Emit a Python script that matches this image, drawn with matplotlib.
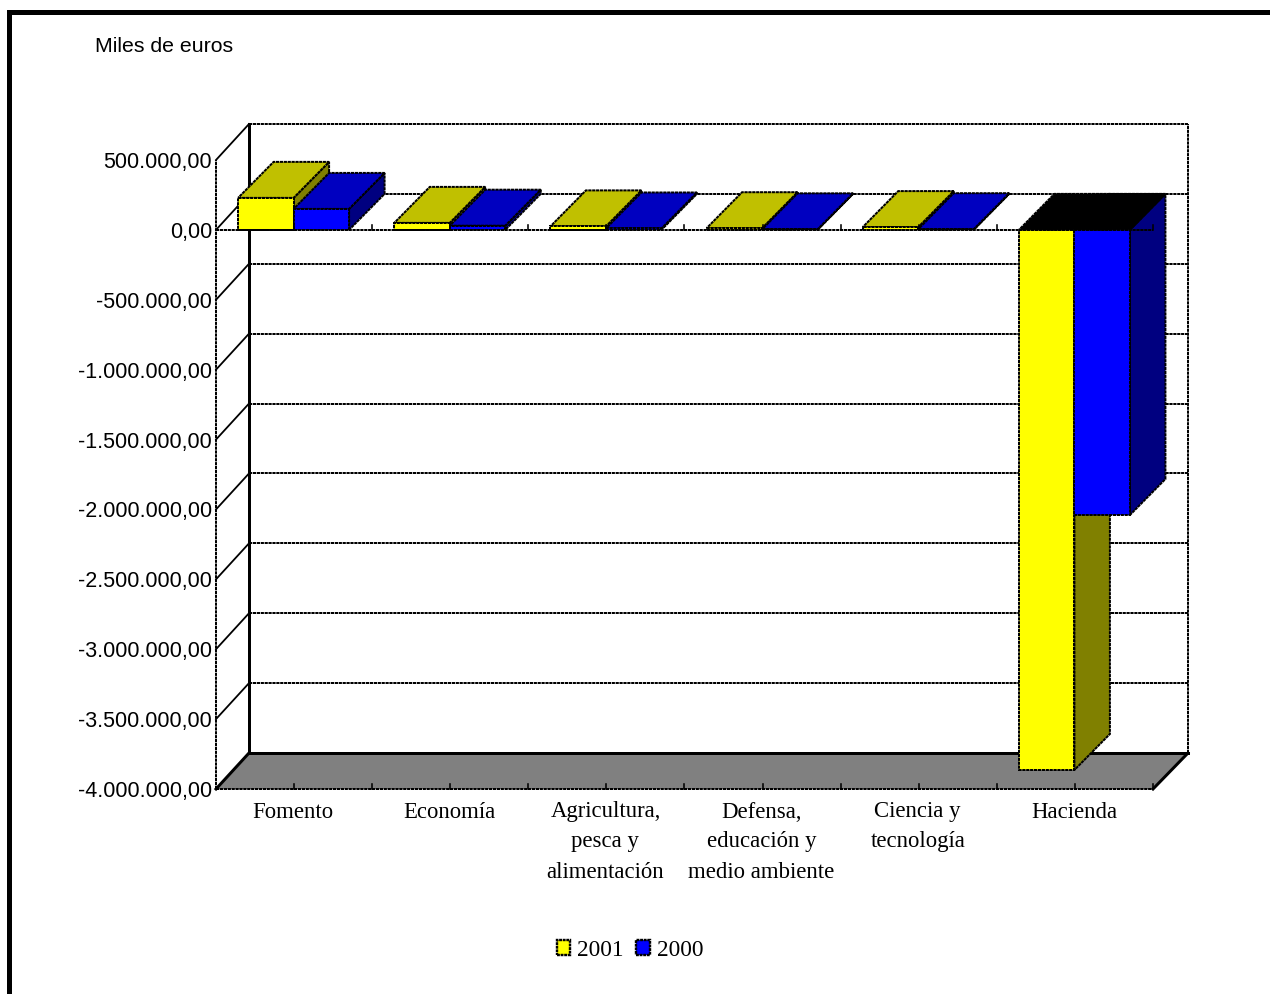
# plot.py
# Pseudo 3D bar chart: front plane is a normal axes, depth is added by hand

import matplotlib
matplotlib.use("Agg")
import matplotlib.pyplot as plt
from matplotlib.patches import Patch, Polygon, Rectangle
from matplotlib.transforms import ScaledTranslation

# -----------------------------
# Data
# -----------------------------
categories = [
    "Fomento",
    "Economía",
    "Agricultura,\npesca y\nalimentación",
    "Defensa,\neducación y\nmedio ambiente",
    "Ciencia y\ntecnología",
    "Hacienda",
]
values_2001 = [229000, 50000, 25000, 12000, 20000, -3864000]
values_2000 = [150000, 30000, 10000, 4000, 5000, -2040000]
series_names = ["2001", "2000"]
y_ticks = [500000, 0, -500000, -1000000, -1500000, -2000000, -2500000, -3000000, -3500000, -4000000]

# -----------------------------
# Styles
# -----------------------------
W, H = 1270, 994
PX = 72 / 100  # one pixel in points
YELLOW = ("#ffff00", "#c0c000", "#808000")
BLUE = ("#0000ff", "#0000c0", "#000080")
DOTTED = (0, (1.6, 0.35))
GRID_KW = dict(color="black", lw=2.0 * PX, ls=DOTTED, zorder=2, clip_on=False)
THICK_KW = dict(color="black", lw=3.0 * PX, zorder=2, clip_on=False)
THIN_KW = dict(color="black", lw=1.8 * PX, zorder=2, clip_on=False)

plt.rcParams["font.family"] = ["Liberation Sans", "DejaVu Sans"]

fig = plt.figure(figsize=(W / 100, H / 100), dpi=100, facecolor="white")
ax = fig.add_axes([216 / W, (H - 789) / H, 937 / W, 629 / H])
ax.set_xlim(0, len(categories))
ax.set_ylim(min(y_ticks), max(y_ticks))
ax.axis("off")

# depth of the walls and of the bars, in pixels
n = len(categories)
px_x = n / 937
px_y = (max(y_ticks) - min(y_ticks)) / 629


def wall(x, y):
    return x + (33 + 2 * x / n) * px_x, y + 36 * px_y


def deep(x, y):
    return x + 35.5 * px_x, y + 36 * px_y


# -----------------------------
# Walls, floor, grid
# -----------------------------
y_min, y_max = min(y_ticks), max(y_ticks)
label_shift = ScaledTranslation(-4 / 100, -2.5 / 100, fig.dpi_scale_trans)

ax.add_patch(Polygon([(0, y_min), (n, y_min), wall(n, y_min), wall(0, y_min)],
                     closed=True, fc="#808080", ec="none", zorder=1, clip_on=False))

for t in y_ticks:
    bx, by = wall(0, t)
    ex, _ = wall(n, t)
    if t == y_min:
        ax.plot([bx, ex], [by, by], **THICK_KW)
        ax.plot([0, bx], [t, by], **THICK_KW)
    else:
        ax.plot([bx, ex], [by, by], **GRID_KW)
        ax.plot([0, bx], [t, by], **THIN_KW)
    label = f"{t:,.2f}".replace(",", "#").replace(".", ",").replace("#", ".")
    ax.text(0, t, label, ha="right", va="center", fontsize=15.5, color="black",
            transform=ax.transData + label_shift)

# verticals
ax.plot([0, 0], [y_min, y_max], **GRID_KW)
ax.plot([wall(0, 0)[0]] * 2, [wall(0, y_min)[1], wall(0, y_max)[1]], **THICK_KW)
ax.plot([wall(n, 0)[0]] * 2, [wall(0, y_min)[1], wall(0, y_max)[1]], **GRID_KW)
ax.plot([n, wall(n, 0)[0]], [y_min, wall(n, y_min)[1]], **THICK_KW)


# -----------------------------
# Bars
# -----------------------------
def draw_bar(x0, x1, val, colors):
    front, top, side = colors
    edge = dict(ec="black", lw=2.0 * PX, ls=DOTTED, zorder=3, clip_on=False, closed=True, joinstyle="miter")
    ax.add_patch(Polygon([(x1, 0), (x1, val), deep(x1, val), deep(x1, 0)], fc=side, **edge))
    if val >= 0:
        ax.add_patch(Polygon([(x0, val), (x1, val), deep(x1, val), deep(x0, val)], fc=top, **edge))
    else:
        # looking into a hanging bar, the lid shows black
        ax.add_patch(Polygon([(x0, 0), (x1, 0), deep(x1, 0), deep(x0, 0)], fc="black", **edge))
    ax.add_patch(Polygon([(x0, 0), (x1, 0), (x1, val), (x0, val)], fc=front, **edge))


bar_w = 55.5 * px_x
for i in range(n):
    c = i + 0.5 - 0.5 * px_x
    draw_bar(c - bar_w, c, values_2001[i], YELLOW)
    draw_bar(c, c + bar_w, values_2000[i], BLUE)

# -----------------------------
# Category axes (zero line and floor edge)
# -----------------------------
for level in [0, y_min]:
    ax.plot([0, n], [level, level], color="black", lw=2.0 * PX, ls=DOTTED, zorder=4, clip_on=False)
    for k in range(1, 2 * n + 1):
        ax.plot([k / 2, k / 2], [level, level + 5 * px_y], color="black", lw=1.6 * PX, zorder=4, clip_on=False)

# -----------------------------
# Text
# -----------------------------
for i, label in enumerate(categories):
    for j, line in enumerate(label.split("\n")):
        ax.annotate(line, xy=(i + 0.5, y_min), xytext=(-1 * PX, -(23 + 30 * j) * PX),
                    textcoords="offset points", ha="center", va="center",
                    fontsize=16.4, family=["Liberation Serif", "DejaVu Serif"], annotation_clip=False)

fig.text(95 / W, 1 - 47 / H, "Miles de euros", fontsize=15.3, ha="left", va="center")

handles = [
    Patch(fc=YELLOW[0], ec="black", lw=2.4 * PX, ls=(0, (1.2, 0.3)), label=series_names[0]),
    Patch(fc=BLUE[0], ec="black", lw=2.4 * PX, ls=(0, (1.2, 0.3)), label=series_names[1]),
]
fig.legend(handles=handles, ncol=2, frameon=False, loc="center",
           bbox_to_anchor=(630 / W, 1 - 950 / H), borderpad=0, borderaxespad=0,
           handlelength=0.58, handleheight=0.6, handletextpad=0.3, columnspacing=0.55,
           prop={"family": "Liberation Serif", "size": 16.8})

# outer frame, only left and top fit in the picture
fig.add_artist(Rectangle((7 / W, 0), 5 / W, 1 - 10 / H, fc="black", ec="none", transform=fig.transFigure))
fig.add_artist(Rectangle((7 / W, 1 - 15 / H), 1 - 7 / W, 5 / H, fc="black", ec="none", transform=fig.transFigure))

fig.savefig("out.png", dpi=100)
print("Saved out.png")
